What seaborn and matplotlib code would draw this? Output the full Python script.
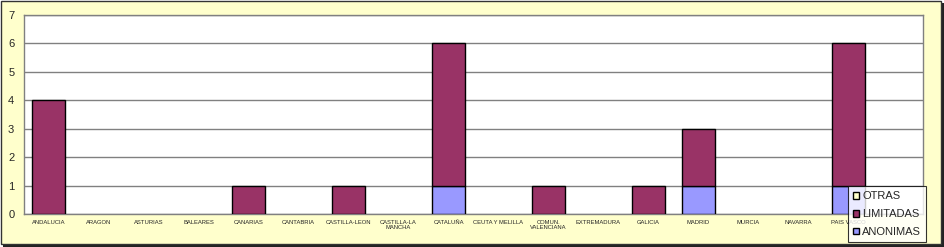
import matplotlib
matplotlib.use("Agg")
import matplotlib.pyplot as plt
import seaborn as sns
import numpy as np
import pandas as pd
from matplotlib.patches import Patch, Rectangle

categories = ["ANDALUCIA", "ARAGON", "ASTURIAS", "BALEARES", "CANARIAS", "CANTABRIA",
              "CASTILLA-LEON", "CASTILLA-LA\nMANCHA", "CATALUÑA", "CEUTA Y MELILLA",
              "COMUN.\nVALENCIANA", "EXTREMADURA", "GALICIA", "MADRID", "MURCIA",
              "NAVARRA", "PAIS VASCO", " "]
anonimas = [0, 0, 0, 0, 0, 0, 0, 0, 1, 0, 0, 0, 0, 1, 0, 0, 1, 0]
limitadas = [4, 0, 0, 0, 1, 0, 1, 0, 5, 0, 1, 0, 1, 2, 0, 0, 5, 0]
otras = [0] * 18
series_names = ["ANONIMAS", "LIMITADAS", "OTRAS"]
colors = ["#9999FF", "#993366", "#FFFFCC"]

sns.set_style("white")
plt.rcParams["font.family"] = ["Liberation Sans", "DejaVu Sans"]

W, H = 944, 247
fig = plt.figure(figsize=(W / 100, H / 100), dpi=100)
fig.patch.set_facecolor("white")
# chart area background + border + shadow
fig.add_artist(Rectangle((3 / W, 0), (W - 3) / W, (H - 3) / H, transform=fig.transFigure,
                         facecolor="#222222", edgecolor="none", zorder=-3))
fig.add_artist(Rectangle((0.5 / W, 3 / H), (W - 4) / W, (H - 4) / H, transform=fig.transFigure,
                         facecolor="#FFFFCC", edgecolor="#333333", linewidth=1.0, zorder=-2))

ax = fig.add_axes([24 / W, 1 - 214 / H, (923 - 24) / W, (214 - 15) / H])
ax.set_facecolor("white")

df = pd.DataFrame({"region": categories, "ANONIMAS": anonimas,
                   "LIMITADAS": limitadas, "OTRAS": otras})
bottom = np.zeros(len(categories))
for name, col in zip(series_names, colors):
    vals = df[name].to_numpy(dtype=float)
    sns.barplot(x=categories, y=vals, bottom=bottom, color=col, order=categories,
                width=0.66, edgecolor="black", linewidth=1.0, saturation=1,
                errorbar=None, ax=ax, zorder=3)
    bottom = bottom + vals

for p in ax.patches:
    if p.get_height() == 0:
        p.set_linewidth(0)
        p.set_visible(False)

ax.set_ylim(0, 7)
ax.set_yticks(range(0, 8))
ax.set_xlim(-0.5, len(categories) - 0.5)
ax.yaxis.grid(True, color="#808080", linewidth=1.0, zorder=0)
ax.set_axisbelow(True)
for s in ["top", "right", "left", "bottom"]:
    ax.spines[s].set_color("#808080")
    ax.spines[s].set_linewidth(1.0)
ax.tick_params(axis="y", labelsize=8, length=3, color="#808080", pad=4)
ax.tick_params(axis="x", labelsize=4.2, length=0, pad=4)
for t in ax.get_xticklabels():
    t.set_linespacing(1.0)
ax.set_xlabel("")
ax.set_ylabel("")

handles = [Patch(facecolor=c, edgecolor="black", linewidth=1.0) for c in colors]
leg = fig.legend(handles[::-1], series_names[::-1], loc="lower left",
                 bbox_to_anchor=(848 / W, 1 - 242 / H), frameon=True,
                 fontsize=8, handlelength=0.55, handleheight=0.55, handletextpad=0.3,
                 labelspacing=0.7, borderpad=0.45, borderaxespad=0, fancybox=False)
leg.get_frame().set_edgecolor("black")
leg.get_frame().set_linewidth(0.8)
leg.get_frame().set_facecolor("white")
leg.set_zorder(10)

fig.savefig("out.png", dpi=100, facecolor=fig.get_facecolor())
